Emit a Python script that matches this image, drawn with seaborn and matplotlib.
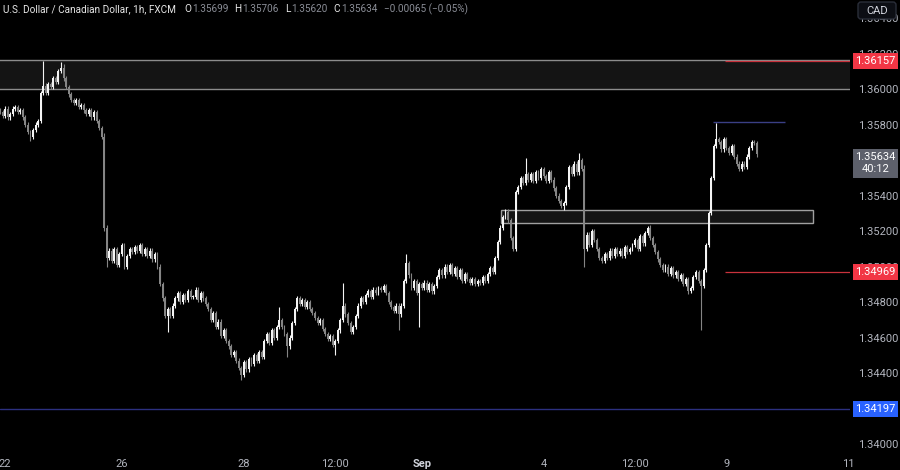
import numpy as np
import pandas as pd
import matplotlib
matplotlib.use("Agg")
import matplotlib.pyplot as plt
import seaborn as sns
from matplotlib.patches import Rectangle, FancyBboxPatch

# ---------------- data (hourly closes) ----------------
closes = [
    1.3587, 1.3585, 1.3589, 1.3584,
    1.3586, 1.3589, 1.3590, 1.3587, 1.3588,
    1.3584, 1.3580, 1.3576, 1.3573,
    1.3577, 1.3580, 1.3582,
    1.3598,
    1.3602,
    1.3598, 1.3603, 1.3601, 1.3606, 1.3604, 1.3610, 1.3612,
    1.3606, 1.3601, 1.3597, 1.3594,
    1.3592, 1.3594, 1.3590, 1.3591, 1.3588, 1.3586, 1.3588, 1.3584, 1.3587, 1.3582, 1.3578,
    1.3573,
    1.3522,
    1.3505,
    1.3509, 1.3503, 1.3510, 1.3501, 1.3507, 1.3512, 1.3500, 1.3506,
    1.3510, 1.3508, 1.3511, 1.3509, 1.3512, 1.3507, 1.3510, 1.3506, 1.3509, 1.3504, 1.3507,
    1.3500, 1.3490,
    1.3482, 1.3472, 1.3476, 1.3472, 1.3478,
    1.3482, 1.3485, 1.3480, 1.3484, 1.3481, 1.3486, 1.3483,
    1.3483, 1.3487, 1.3481, 1.3485, 1.3482,
    1.3479, 1.3476, 1.3470, 1.3474, 1.3466, 1.3469, 1.3461, 1.3464, 1.3458,
    1.3455, 1.3450, 1.3452, 1.3447, 1.3443, 1.3439,
    1.3446, 1.3442, 1.3448, 1.3445, 1.3450, 1.3447, 1.3452, 1.3449,
    1.3458, 1.3462, 1.3457, 1.3464, 1.3460, 1.3466,
    1.3470, 1.3466, 1.3462, 1.3455, 1.3460,
    1.3468, 1.3476, 1.3482,
    1.3479, 1.3481, 1.3477, 1.3480, 1.3476,
    1.3474, 1.3471, 1.3468, 1.3470, 1.3465,
    1.3462, 1.3459, 1.3461, 1.3456, 1.3458,
    1.3464, 1.3470, 1.3478, 1.3473,
    1.3468, 1.3463, 1.3466,
    1.3472, 1.3478, 1.3482, 1.3480,
    1.3484, 1.3486, 1.3483, 1.3487, 1.3485, 1.3488,
    1.3487, 1.3489, 1.3485, 1.3480, 1.3477,
    1.3475, 1.3478, 1.3473,
    1.3478, 1.3492, 1.3502,
    1.3495, 1.3488, 1.3492, 1.3485, 1.3490,
    1.3488, 1.3491, 1.3487, 1.3490, 1.3486, 1.3489,
    1.3494, 1.3498, 1.3495, 1.3500, 1.3497, 1.3501, 1.3496,
    1.3499, 1.3494, 1.3498, 1.3492, 1.3496, 1.3493,
    1.3491, 1.3493, 1.3490, 1.3492, 1.3491, 1.3494, 1.3492,
    1.3496, 1.3499, 1.3497,
    1.3505, 1.3514, 1.3522,
    1.3528, 1.3531, 1.3526,
    1.3516, 1.3510,
    1.3542, 1.3545,
    1.3550, 1.3547, 1.3552, 1.3549,
    1.3552, 1.3548, 1.3553, 1.3550, 1.3555, 1.3551, 1.3548, 1.3553, 1.3549,
    1.3544, 1.3540, 1.3537, 1.3534, 1.3536,
    1.3545, 1.3556, 1.3552,
    1.3558, 1.3553, 1.3560, 1.3555,
    1.3510,
    1.3518, 1.3512, 1.3520, 1.3515, 1.3510, 1.3505,
    1.3503, 1.3507, 1.3505, 1.3509, 1.3506, 1.3510, 1.3507, 1.3509, 1.3506, 1.3511, 1.3508, 1.3510,
    1.3512, 1.3515, 1.3510, 1.3517, 1.3513, 1.3519, 1.3522, 1.3516, 1.3512,
    1.3508, 1.3504, 1.3501, 1.3498,
    1.3500, 1.3496, 1.3499, 1.3495, 1.3497, 1.3493, 1.3495,
    1.3490, 1.3493, 1.3486, 1.3488,
    1.3494, 1.3497, 1.3492, 1.3489,
    1.3498, 1.3512, 1.3530, 1.3550, 1.3568,
    1.3572,
    1.3570, 1.3566, 1.3572, 1.3567, 1.3564, 1.3568, 1.3562, 1.3558, 1.3555, 1.3558,
    1.3556, 1.3562, 1.3567, 1.3570, 1.35699, 1.35634,
]
first_open = 1.3588
# notable wick extremes (bar index -> price)
spike_highs = {17: 1.3616, 24: 1.3615, 25: 1.3614, 41: 1.3575, 110: 1.3477, 135: 1.3491,
               160: 1.3507, 207: 1.3561, 228: 1.3564, 230: 1.3557, 255: 1.3523,
               282: 1.3581, 298: 1.35706}
spike_lows = {12: 1.3571, 41: 1.3520, 42: 1.3500, 66: 1.3463, 95: 1.3436, 113: 1.3449,
              132: 1.3450, 157: 1.3464, 165: 1.3466, 222: 1.3532, 230: 1.3500,
              272: 1.3485, 276: 1.3464, 298: 1.35620}
base_wick = 0.00012

# x axis labels (bar index positions of hourly bars)
xtick_pos = [2, 48, 96, 132, 166, 214, 250, 286, 334]
xtick_lab = ["22", "26", "28", "12:00", "Sep", "4", "12:00", "9", "11"]
# price labels visible on the scale (1.34200 and 1.35600 are hidden behind price tags)
ytick_vals = [1.340, 1.344, 1.346, 1.348, 1.350, 1.352, 1.354, 1.358, 1.360, 1.362, 1.364]

# zones / levels
upper_zone = (1.36000, 1.36163)
mid_zone = (1.35245, 1.35318)
mid_zone_x = (197.2, 320.0)
red_levels = [1.36157, 1.34969]
red_x0 = 285.4
high_line = 1.35812
high_line_x = (280.7, 309.0)
blue_level = 1.34197
last_price = "1.35634"
countdown = "40:12"

title_name = "U.S. Dollar / Canadian Dollar, 1h, FXCM"
ohlc_keys = ["O", "H", "L", "C"]
ohlc_vals = ["1.35699", "1.35706", "1.35620", "1.35634"]
change_txt = "\u22120.00065 (\u22120.05%)"

# ---------------- build table ----------------
n = len(closes)
opens = [first_open] + closes[:-1]
df = pd.DataFrame({"i": np.arange(n), "open": opens, "close": closes})
df["high"] = df[["open", "close"]].max(axis=1) + base_wick
df["low"] = df[["open", "close"]].min(axis=1) - base_wick
for k, v in spike_highs.items():
    if k < n:
        df.loc[k, "high"] = max(v, df.loc[k, ["open", "close"]].max())
for k, v in spike_lows.items():
    if k < n:
        df.loc[k, "low"] = min(v, df.loc[k, ["open", "close"]].min())
df["up"] = df["close"] >= df["open"]
UP, DN = "#f4f4f4", "#858585"
df["color"] = np.where(df["up"], UP, DN)
df["bottom"] = df[["open", "close"]].min(axis=1)
df["height"] = (df["close"] - df["open"]).abs().clip(lower=0.00003)

# ---------------- figure ----------------
sns.set_theme(style="dark", rc={"axes.facecolor": "black", "figure.facecolor": "black",
                                "axes.edgecolor": "black", "axes.grid": False})
plt.rcParams["font.family"] = ["Roboto", "DejaVu Sans"]

W, H = 900, 470
fig = plt.figure(figsize=(W / 100, H / 100), dpi=100)
ax = fig.add_axes([0, 18 / H, 850 / W, 452 / H])
ax.set_facecolor("black")

xmax = 850 / 2.54
ax.set_xlim(0, xmax)
ax.set_ylim(1.33955, 1.36502)

# zones
ax.add_patch(Rectangle((-5, upper_zone[0]), xmax + 10, upper_zone[1] - upper_zone[0],
                       facecolor="#141414", edgecolor="#8c8c8c", lw=1.0, zorder=1))
ax.add_patch(Rectangle((mid_zone_x[0], mid_zone[0]), mid_zone_x[1] - mid_zone_x[0],
                       mid_zone[1] - mid_zone[0],
                       facecolor="#141414", edgecolor="#a0a0a0", lw=1.0, zorder=1))
for lv in red_levels:
    ax.hlines(lv, red_x0, xmax, color="#c8323c", lw=0.9, zorder=2)
ax.hlines(high_line, high_line_x[0], high_line_x[1], color="#3a3f85", lw=1.0, zorder=2)
ax.axhline(blue_level, color="#2c3080", lw=1.0, zorder=2)

# candles
ax.vlines(df["i"], df["low"], df["high"], colors=df["color"], lw=0.8, zorder=3)
ax.bar(df["i"], df["height"], bottom=df["bottom"], width=0.75, color=df["color"],
       linewidth=0, zorder=4)

# axes ticks
ax.yaxis.tick_right()
ax.set_yticks(ytick_vals)
ax.set_yticklabels([f"{v:.5f}" for v in ytick_vals], color="#b2b5be", fontsize=8)
ax.tick_params(axis="y", length=0, pad=6)
ax.set_xticks(xtick_pos)
ax.set_xticklabels(xtick_lab, color="#b2b5be", fontsize=8)
for t in ax.get_xticklabels():
    if t.get_text() == "Sep":
        t.set_fontweight("bold")
        t.set_color("#d1d4dc")
ax.tick_params(axis="x", length=0, pad=5)
for s in ax.spines.values():
    s.set_visible(False)

fig.canvas.draw()
renderer = fig.canvas.get_renderer()


def price_to_py(p):
    return ax.transData.transform((0, p))[1]


def label_box(p, text, fc, h=16, tc="white"):
    yc = price_to_py(p)
    fig.add_artist(Rectangle((853, yc - h / 2), 45, h, transform=None,
                             facecolor=fc, edgecolor="none", zorder=10))
    fig.text(875.5 / W, yc / H, text, ha="center", va="center", color=tc,
             fontsize=8, zorder=11)


label_box(red_levels[0], "1.36157", "#f23645")
label_box(red_levels[1], "1.34969", "#f23645")
label_box(blue_level, "1.34197", "#2962ff")

# current price box
yc = price_to_py(float(last_price))
fig.add_artist(Rectangle((853, yc - 24), 45, 29, transform=None,
                         facecolor="#5d606b", edgecolor="none", zorder=10))
fig.text(875.5 / W, (yc - 3) / H, last_price, ha="center", va="center", color="white",
         fontsize=8, zorder=11)
fig.text(875.5 / W, (yc - 15) / H, countdown, ha="center", va="center", color="white",
         fontsize=8, zorder=11)

# CAD box
fig.add_artist(FancyBboxPatch((858, H - 19), 38, 17, boxstyle="round,pad=0,rounding_size=3",
                              transform=None, facecolor="#0c0e14", edgecolor="#2a2e39",
                              lw=1, zorder=10))
fig.text(877 / W, (H - 10.5) / H, "CAD", ha="center", va="center", color="#d1d4dc",
         fontsize=8, zorder=11)

# title line, laid out left to right
ty = 1 - 9 / H
FS = 7.2
WHITE, GREY = "#e6e6e6", "#8a8d96"


def put(xpx, txt, color):
    t = fig.text(xpx / W, ty, txt, ha="left", va="center", color=color, fontsize=FS)
    return t.get_window_extent(renderer).x1


x = put(3, title_name, WHITE) + 8
for k, v in zip(ohlc_keys, ohlc_vals):
    x = put(x, k, WHITE) + 1
    x = put(x, v, GREY) + 6
put(x + 1, change_txt, GREY)

fig.savefig("out.png", dpi=100, facecolor="black")
